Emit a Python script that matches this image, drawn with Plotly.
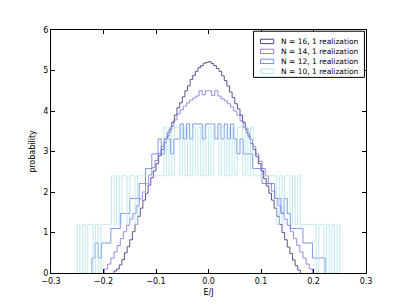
import numpy as np
import plotly.graph_objects as go

# ---------------- data ----------------
labels = ["N = 16, 1 realization", "N = 14, 1 realization",
          "N = 12, 1 realization", "N = 10, 1 realization"]

# N = 16 histogram (bin start, bin width, heights)
n16_start = -0.18
n16_width = 0.005
n16_heights = [0.05, 0.10, 0.20, 0.33, 0.50, 0.65, 0.82, 1.02, 1.20, 1.40, 1.60, 1.80,
               1.97, 2.17, 2.35, 2.52, 2.70, 2.90, 3.05, 3.22, 3.38, 3.55, 3.72, 3.90,
               4.08, 4.20, 4.35, 4.50, 4.62, 4.78, 4.88, 4.98, 5.07, 5.12, 5.18, 5.20,
               5.22, 5.17, 5.12, 5.05, 4.98, 4.87, 4.75, 4.62, 4.47, 4.33, 4.18, 4.05,
               3.90, 3.72, 3.55, 3.38, 3.20, 3.05, 2.88, 2.70, 2.52, 2.33, 2.15, 1.97,
               1.80, 1.60, 1.40, 1.20, 1.00, 0.82, 0.64, 0.48, 0.32, 0.18, 0.07]

# N = 14 histogram
n14_start = -0.198
n14_width = 0.006
n14_heights = [0.10, 0.22, 0.37, 0.52, 0.68, 0.85, 1.02, 1.18, 1.33, 1.47, 1.65, 1.83,
               2.00, 2.20, 2.42, 2.60, 2.78, 2.95, 3.13, 3.32, 3.47, 3.62, 3.78, 3.93,
               4.03, 4.12, 4.20, 4.27, 4.32, 4.37, 4.50, 4.40, 4.50,
               4.50, 4.38, 4.50, 4.37, 4.30, 4.25, 4.18, 4.10, 4.00, 3.90, 3.76, 3.60,
               3.45, 3.30, 3.12, 2.94, 2.76, 2.58, 2.40, 2.20, 2.02, 1.84, 1.66, 1.48,
               1.33, 1.18, 1.02, 0.85, 0.68, 0.52, 0.37, 0.22, 0.10]

# N = 12 histogram
n12_start = -0.222
n12_width = 0.006
n12_heights = [0.37, 0.74, 0.37, 0.74, 0.74, 0.74, 1.10, 1.10, 1.10, 1.47, 1.47, 1.47,
               1.84, 1.84, 1.84, 2.21, 2.21, 2.58, 2.58, 2.94, 2.94, 3.31, 2.94, 3.31,
               3.31, 2.94, 3.31, 3.31, 3.68, 3.31, 3.68, 3.31, 3.68, 3.68, 3.68, 3.31,
               3.68,
               3.68, 3.68, 3.31, 3.68, 3.31, 3.68, 3.31, 3.68, 3.31, 2.94, 3.31, 2.94,
               2.94, 2.94, 2.58, 2.58, 2.58, 2.21, 2.21, 2.21, 2.21, 1.84, 1.84, 1.47,
               1.84, 1.47, 1.10, 1.10, 1.10, 1.10, 0.74, 0.74, 0.74, 0.37, 0.37, 0.37,
               0.37]

# N = 10 histogram
n10_start = -0.25
n10_width = 0.005
n10_heights = [1.2, 0.0, 1.2, 0.0, 1.2, 1.2, 0.0, 1.2, 0.0, 1.2,
               1.2, 1.2, 1.2, 2.4, 1.2, 2.4, 1.2, 2.4, 2.4, 1.2,
               2.4, 2.4, 1.2, 2.4, 2.4, 2.4, 2.4, 2.4, 2.4, 2.4,
               2.4, 2.4, 2.4, 3.6, 2.4, 3.6, 2.4, 3.6, 3.6, 2.4,
               3.6, 2.4, 3.6, 2.4, 3.6, 2.4, 3.6, 2.4, 3.6, 2.4,
               3.6, 2.4, 3.6, 3.6, 2.4, 3.6, 2.4, 3.6, 2.4, 3.6,
               2.4, 3.6, 3.6, 2.4, 3.6, 2.4, 3.6, 2.4, 2.4, 2.4,
               2.4, 2.4, 2.4, 2.4, 2.4, 2.4, 1.2, 2.4, 1.2, 2.4,
               2.4, 1.2, 2.4, 1.2, 2.4, 1.2, 1.2, 1.2, 1.2, 1.2,
               1.2, 0.0, 1.2, 1.2, 0.0, 1.2, 0.0, 1.2, 0.0, 1.2]

x_ticks = [-0.3, -0.2, -0.1, 0.0, 0.1, 0.2, 0.3]
y_ticks = [0, 1, 2, 3, 4, 5, 6]

# ---------------- styling ----------------
colors = ["rgba(50,50,120,0.9)", "rgba(130,100,220,0.85)",
          "rgba(90,120,230,0.85)", "rgba(170,225,230,0.8)"]
FONT = "DejaVu Sans"


def step_xy(start, width, heights):
    n = len(heights)
    edges = start + width * np.arange(n + 1)
    xs = [edges[0]] + list(edges[:n]) + [edges[n]]
    ys = [0.0] + list(heights) + [0.0]
    return xs, ys


series = [(n16_start, n16_width, n16_heights),
          (n14_start, n14_width, n14_heights),
          (n12_start, n12_width, n12_heights),
          (n10_start, n10_width, n10_heights)]

fig = go.Figure()
for (s, w, h), c, lab in zip(series, colors, labels):
    xs, ys = step_xy(s, w, h)
    fig.add_trace(go.Scatter(x=xs, y=ys, mode="lines", line_shape="hv",
                             line=dict(color=c, width=0.9), name=lab,
                             showlegend=False, hoverinfo="skip"))

# manual legend (matplotlib-like)
L = dict(x0=0.643, x1=0.995, y0=0.805, y1=0.995)
fig.add_shape(type="rect", xref="paper", yref="paper", x0=L["x0"], x1=L["x1"],
              y0=L["y0"], y1=L["y1"], line=dict(color="black", width=1),
              fillcolor="white", layer="above")
row_y = [0.953, 0.912, 0.871, 0.830]
for ry, c, lab in zip(row_y, colors, labels):
    fig.add_shape(type="rect", xref="paper", yref="paper", x0=0.665, x1=0.707,
                  y0=ry - 0.009, y1=ry + 0.009, line=dict(color=c, width=1),
                  fillcolor="rgba(0,0,0,0)", layer="above")
    fig.add_annotation(xref="paper", yref="paper", x=0.725, y=ry, text=lab,
                       showarrow=False, xanchor="left", yanchor="middle",
                       font=dict(family=FONT, size=7.5, color="black"))

axis_common = dict(showline=True, linecolor="black", linewidth=1, mirror="allticks",
                   ticks="inside", ticklen=4, tickcolor="black", showgrid=False,
                   zeroline=False, automargin=False,
                   tickfont=dict(family=FONT, size=8, color="black"))

fig.update_layout(
    width=407, height=305,
    margin=dict(l=51, r=41, t=30, b=32, autoexpand=False),
    paper_bgcolor="white", plot_bgcolor="white",
    showlegend=False,
    xaxis=dict(range=[-0.3, 0.3], tickvals=x_ticks, tickformat=".1f",
               title=dict(text="E/J", font=dict(family=FONT, size=8, color="black"),
                          standoff=4),
               **axis_common),
    yaxis=dict(range=[0, 6], tickvals=y_ticks,
               title=dict(text="probability",
                          font=dict(family=FONT, size=8, color="black"), standoff=6),
               **axis_common),
)

fig.write_html("out.html", config={"displayModeBar": False},
               post_script="document.body.style.margin='0';"
                           "document.body.style.overflow='hidden';")
